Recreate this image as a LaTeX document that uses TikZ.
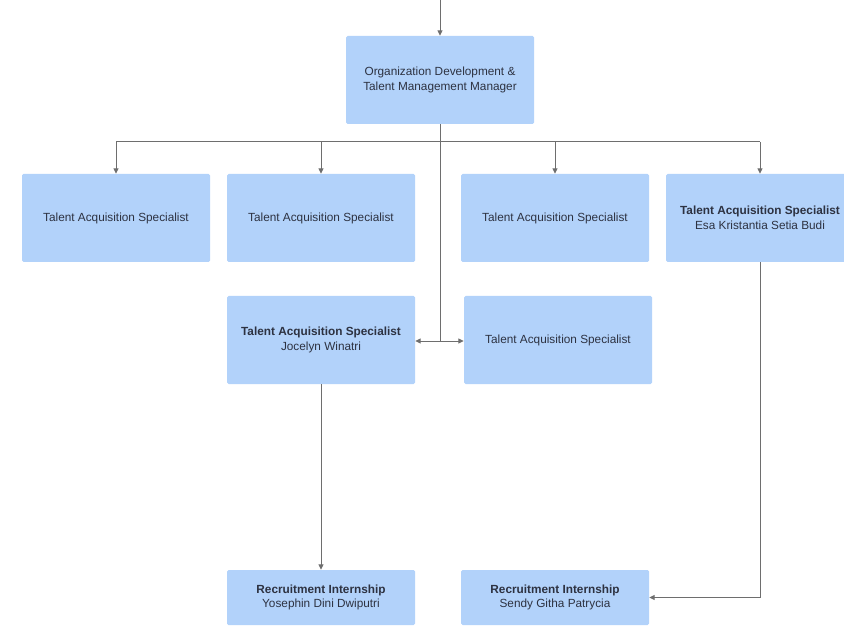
\documentclass[tikz,border=0pt]{standalone}
\usepackage{fontspec}
\setmainfont{Liberation Sans}
\usetikzlibrary{arrows.meta}
\definecolor{boxfill}{RGB}{178,210,250}
\definecolor{txt}{RGB}{45,50,65}
\definecolor{ln}{RGB}{110,110,110}
\tikzset{
  x=1pt, y=-1pt,
  box/.style={draw=none, fill=boxfill, rounded corners=1.5pt, minimum width=188pt, minimum height=88pt, inner sep=0pt, align=center, font=\fontsize{11.8}{14.5}\selectfont, text=txt},
  smallbox/.style={box, minimum height=55pt},
  conn/.style={draw=ln, line width=1pt, -{Triangle[length=5.5pt,width=5pt]}},
  plain/.style={draw=ln, line width=1pt}
}
\begin{document}
\begin{tikzpicture}
\useasboundingbox (0,0) rectangle (844,631);
\begin{scope}
\clip (0,0) rectangle (844,631);
\node[box] (mgr) at (440,80) {Organization Development \&\\Talent Management Manager};
\node[box] (a) at (116,218) {Talent Acquisition Specialist};
\node[box] (b) at (321,218) {Talent Acquisition Specialist};
\node[box] (c) at (555,218) {Talent Acquisition Specialist};
\node[box] (d) at (760,218) {\textbf{Talent Acquisition Specialist}\\Esa Kristantia Setia Budi};
\node[box] (e) at (321,340) {\textbf{Talent Acquisition Specialist}\\Jocelyn Winatri};
\node[box] (f) at (558,340) {Talent Acquisition Specialist};
\node[smallbox] (g) at (321,597.5) {\textbf{Recruitment Internship}\\Yosephin Dini Dwiputri};
\node[smallbox] (h) at (555,597.5) {\textbf{Recruitment Internship}\\Sendy Githa Patrycia};
\end{scope}
\coordinate (top) at (440,0);
\coordinate (bus) at (440,142);
\coordinate (mid) at (440,341);
\draw[conn] (top) -- (mgr.north);
\draw[plain] (mgr.south) -- (bus);
\draw[plain] (a.north |- bus) -- (d.north |- bus);
\draw[conn] (a.north |- bus) -- (a.north);
\draw[conn] (b.north |- bus) -- (b.north);
\draw[conn] (c.north |- bus) -- (c.north);
\draw[conn] (d.north |- bus) -- (d.north);
\draw[plain] (bus) -- (mid);
\draw[conn] (mid) -- (e.east |- mid);
\draw[conn] (mid) -- (f.west |- mid);
\draw[conn] (e.south) -- (g.north);
\draw[conn] (d.south) |- (h.east);
\end{tikzpicture}
\end{document}
